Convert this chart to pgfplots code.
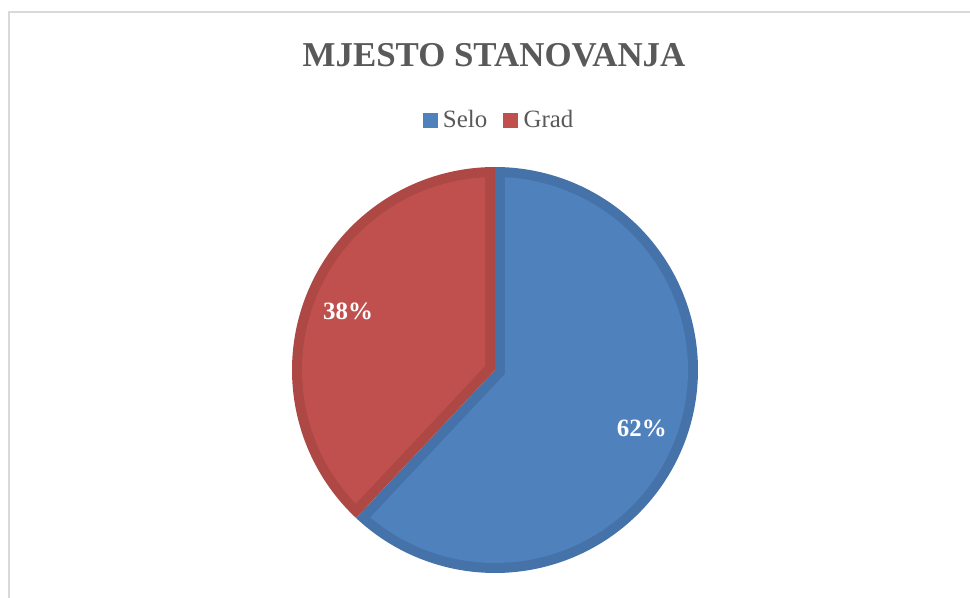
\documentclass[border=0pt]{standalone}
\usepackage{pgfplots}
\pgfplotsset{compat=1.18}
\usepackage{pgfplotstable}
\usepackage{fontspec}
\setmainfont{Liberation Serif}

\definecolor{seloFill}{HTML}{4F81BD}
\definecolor{seloEdge}{HTML}{4672AA}
\definecolor{gradFill}{HTML}{C0504D}
\definecolor{gradEdge}{HTML}{AD4845}
\definecolor{titleGray}{HTML}{595959}
\definecolor{frameGray}{HTML}{D9D9D9}

\pgfplotstableread{
naziv udio
Selo  62
Grad  38
}\stanovanje

\pgfplotstablegetelem{0}{udio}\of\stanovanje \let\udioSelo\pgfplotsretval
\pgfplotstablegetelem{1}{udio}\of\stanovanje \let\udioGrad\pgfplotsretval

% pie centre, radius, inner border width (in bp = axis units)
\def\cx{495}\def\cy{228}\def\R{203}\def\Rin{193}\def\bw{10}

% clockwise from 12 o'clock
\pgfmathsetmacro{\aA}{90}
\pgfmathsetmacro{\aB}{\aA-3.6*\udioSelo}
\pgfmathsetmacro{\aC}{\aB-3.6*\udioGrad}

% inner apex and label position of each slice
\pgfmathsetmacro{\apxSelo}{\cx+\bw/sin((\aA-\aB)/2)*cos((\aA+\aB)/2)}
\pgfmathsetmacro{\apySelo}{\cy+\bw/sin((\aA-\aB)/2)*sin((\aA+\aB)/2)}
\pgfmathsetmacro{\apxGrad}{\cx+\bw/sin((\aB-\aC)/2)*cos((\aB+\aC)/2)}
\pgfmathsetmacro{\apyGrad}{\cy+\bw/sin((\aB-\aC)/2)*sin((\aB+\aC)/2)}
\pgfmathsetmacro{\lxSelo}{\cx+158*cos((\aA+\aB)/2)}
\pgfmathsetmacro{\lySelo}{\cy+158*sin((\aA+\aB)/2)}
\pgfmathsetmacro{\lxGrad}{\cx+158*cos((\aB+\aC)/2)}
\pgfmathsetmacro{\lyGrad}{\cy+158*sin((\aB+\aC)/2)}
\pgfmathsetmacro{\dlt}{asin(\bw/\Rin)}

\begin{document}
\begin{tikzpicture}
\begin{axis}[
  at={(0,0)}, anchor=south west,
  width=970bp, height=598bp, scale only axis,
  xmin=0, xmax=970, ymin=0, ymax=598,
  hide axis, clip=false,
  legend columns=2,
  legend style={at={(0.5144,0.7993)}, anchor=center, draw=none, fill=none,
    font=\fontsize{25}{28}\selectfont, text=titleGray,
    inner sep=0pt,
    /tikz/every even column/.append style={column sep=14bp}},
]
% frame
\draw[frameGray, line width=2bp] (axis cs:9,0) -- (axis cs:9,586) -- (axis cs:975,586);

\addlegendimage{legend image code/.code={\fill[seloFill] (0bp,-7bp) rectangle (14bp,7bp); \path (18bp,0bp);}}
\addlegendentry{Selo}
\addlegendimage{legend image code/.code={\fill[gradFill] (0bp,-7bp) rectangle (14bp,7bp); \path (18bp,0bp);}}
\addlegendentry{Grad}

% Selo
\addplot[forget plot, fill=seloEdge, draw=none, domain=\aB:\aA, samples=180]
  ({\cx+\R*cos(x)},{\cy+\R*sin(x)}) -- (axis cs:\cx,\cy) -- cycle;
\addplot[forget plot, fill=seloFill, draw=none, domain=\aB+\dlt:\aA-\dlt, samples=180]
  ({\cx+\Rin*cos(x)},{\cy+\Rin*sin(x)}) -- (axis cs:\apxSelo,\apySelo) -- cycle;
% Grad
\addplot[forget plot, fill=gradEdge, draw=none, domain=\aC:\aB, samples=120]
  ({\cx+\R*cos(x)},{\cy+\R*sin(x)}) -- (axis cs:\cx,\cy) -- cycle;
\addplot[forget plot, fill=gradFill, draw=none, domain=\aC+\dlt:\aB-\dlt, samples=120]
  ({\cx+\Rin*cos(x)},{\cy+\Rin*sin(x)}) -- (axis cs:\apxGrad,\apyGrad) -- cycle;

% labels
\node[font=\bfseries\fontsize{25}{28}\selectfont, text=white] at (axis cs:\lxSelo,\lySelo) {\udioSelo\%};
\node[font=\bfseries\fontsize{25}{28}\selectfont, text=white] at (axis cs:\lxGrad,\lyGrad) {\udioGrad\%};

% title
\node[font=\bfseries\fontsize{35}{40}\selectfont, text=titleGray, anchor=base] at (axis cs:494,531) {MJESTO STANOVANJA};
\end{axis}
\pgfresetboundingbox
\path[use as bounding box] (0,0) rectangle (970bp,598bp);
\end{tikzpicture}
\end{document}
